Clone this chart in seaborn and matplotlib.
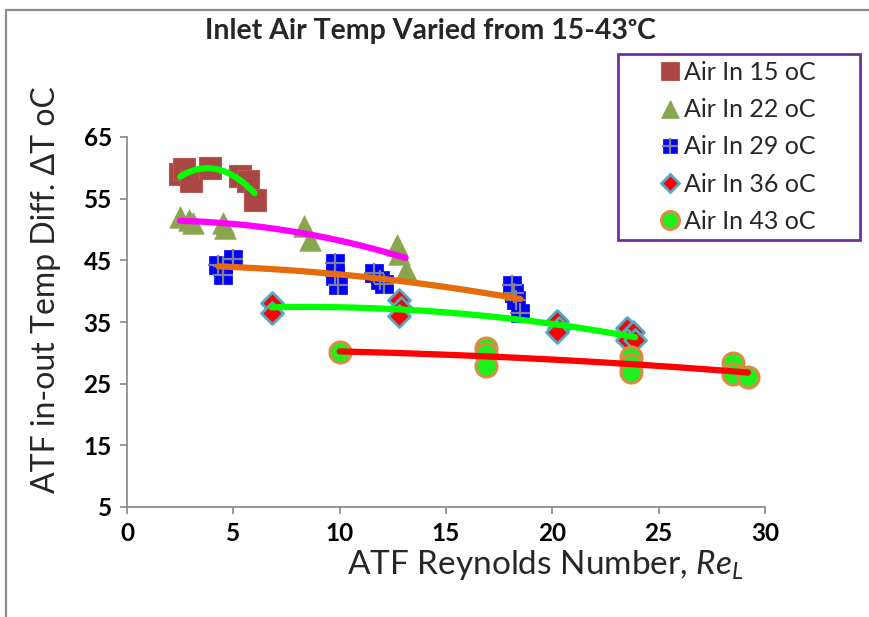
import numpy as np
import pandas as pd
import matplotlib
matplotlib.use("Agg")
import matplotlib.pyplot as plt
from matplotlib.lines import Line2D
from matplotlib.patches import Rectangle
import seaborn as sns

# ATF Reynolds number and in-out temperature difference for each inlet air temperature
x15 = [2.5, 2.7, 3.0, 3.9, 5.3, 5.7, 6.0]
y15 = [59.0, 59.8, 57.8, 59.9, 58.6, 57.8, 54.8]

x22 = [2.5, 2.9, 3.1, 4.5, 4.6, 8.3, 8.6, 12.7, 12.8, 13.1]
y22 = [52.0, 51.5, 51.0, 51.0, 50.3, 50.5, 48.3, 47.5, 46.0, 43.5]

x29 = [4.3, 4.5, 4.5, 5.0, 9.8, 9.8, 9.9, 11.6, 11.9, 12.1, 18.1, 18.2, 18.3, 18.5]
y29 = [44.3, 42.6, 44.0, 45.2, 44.5, 42.5, 41.0, 43.0, 41.8, 41.2, 41.0, 39.7, 38.5, 36.5]

x36 = [6.8, 6.8, 12.8, 12.9, 12.8, 20.2, 20.3, 20.2, 23.5, 23.8, 23.5, 23.9]
y36 = [38.0, 36.5, 38.6, 37.3, 36.0, 35.2, 34.0, 33.4, 34.0, 33.3, 32.0, 32.0]

x43 = [10.0, 16.9, 16.9, 16.9, 23.7, 23.7, 23.7, 28.5, 28.5, 29.2]
y43 = [30.2, 30.8, 29.8, 27.8, 29.3, 28.0, 26.9, 28.3, 26.6, 26.1]

labels = ["Air In 15 oC", "Air In 22 oC", "Air In 29 oC", "Air In 36 oC", "Air In 43 oC"]
x_ticks = [0, 5, 10, 15, 20, 25, 30]
y_ticks = [5, 15, 25, 35, 45, 55, 65]

sns.set_style("white")
plt.rcParams["font.family"] = ["Lato", "DejaVu Sans"]
plt.rcParams["mathtext.fontset"] = "custom"
plt.rcParams["mathtext.it"] = "Lato:italic"
plt.rcParams["mathtext.rm"] = "Lato"

fig = plt.figure(figsize=(8.7, 6.17), dpi=100)
W, H = 870, 617
ax = fig.add_axes([127 / W, 1 - 507 / H, (765 - 127) / W, (507 - 137) / H])

series = [
    dict(x=x15, y=y15, marker="s", s=240, fc="#AA4643", ec="#B85A55", lw=0.8, trend="#00FF00"),
    dict(x=x22, y=y22, marker="^", s=240, fc="#89A54E", ec="#89A54E", lw=0.5, trend="#FF00FF"),
    dict(x=x29, y=y29, marker="s", s=160, fc="#0000FF", ec="#0000FF", lw=0.5, trend="#E46C0A"),
    dict(x=x36, y=y36, marker="D", s=125, fc="#FF0000", ec="#4BACC6", lw=2.0, trend="#00FF00"),
    dict(x=x43, y=y43, marker="o", s=230, fc="#1EF01E", ec="#DC8A44", lw=2.2, trend="#FF0000"),
]

handles = []
for i, sr in enumerate(series):
    df = pd.DataFrame({"Re": sr["x"], "dT": sr["y"]})
    sns.scatterplot(data=df, x="Re", y="dT", marker=sr["marker"], s=sr["s"],
                    color=sr["fc"], edgecolor=sr["ec"], linewidth=sr["lw"],
                    ax=ax, zorder=3, legend=False)
    ms = np.sqrt(sr["s"]) * 0.85
    h = Line2D([], [], ls="none", marker=sr["marker"], markersize=ms,
               markerfacecolor=sr["fc"], markeredgecolor=sr["ec"], markeredgewidth=sr["lw"])
    if i == 2:
        # blue squares carry a grey cross
        sns.scatterplot(data=df, x="Re", y="dT", marker="+", s=210, color="#7F7F9A",
                        linewidth=1.6, ax=ax, zorder=4, legend=False)
        cross = Line2D([], [], ls="none", marker="+", markersize=ms * 1.1,
                       markeredgecolor="#7F7F9A", markeredgewidth=1.6)
        h = (h, cross)
    handles.append(h)

# second-order polynomial trend lines over each series
for sr in series:
    sns.regplot(x=np.array(sr["x"]), y=np.array(sr["y"]), order=2, ci=None, scatter=False,
                truncate=True, ax=ax,
                line_kws=dict(color=sr["trend"], lw=4.5, solid_capstyle="round", zorder=6))

ax.set_xlim(0, 30)
ax.set_ylim(5, 65)
ax.set_xticks(x_ticks)
ax.set_yticks(y_ticks)
ax.set_xticklabels([str(v) for v in x_ticks], fontsize=17.5, fontweight="bold")
ax.set_yticklabels([str(v) for v in y_ticks], fontsize=17.5, fontweight="bold")
for side in ["top", "right"]:
    ax.spines[side].set_visible(False)
for side in ["left", "bottom"]:
    ax.spines[side].set_color("#868686")
    ax.spines[side].set_linewidth(1.2)
ax.tick_params(axis="both", direction="out", length=5, width=1.2, color="#868686",
               pad=6, labelcolor="black", left=True, bottom=True)
ax.grid(False)

ax.set_xlabel(r"ATF Reynolds Number, $\mathit{Re_L}$", fontsize=24)
ax.set_ylabel("ATF in-out Temp Diff. ΔT oC", fontsize=23)
ax.xaxis.set_label_coords((545 - 127) / 638, (507 - 548) / 370)
ax.yaxis.set_label_coords((61 - 127) / 638, (507 - 290) / 370)

fig.text(430 / W, 1 - 31 / H, "Inlet Air Temp Varied from 15-43ᵒC", ha="center", va="center",
         fontsize=20.5, fontweight="bold")

# legend entries, with the purple frame drawn as its own box
leg = fig.legend(handles, labels, loc="upper left",
                 bbox_to_anchor=(659 / W, 1 - 61 / H), bbox_transform=fig.transFigure,
                 frameon=False, fontsize=18, handletextpad=0.1,
                 labelspacing=0.57, borderpad=0.0, handlelength=0.9,
                 borderaxespad=0)
fig.add_artist(Rectangle((618 / W, 1 - 240 / H), (860 - 618) / W, (240 - 54) / H,
                         transform=fig.transFigure, fill=False, edgecolor="#7030A0", lw=2,
                         zorder=5))

# chart frame on the top and left edges
fig.add_artist(Line2D([6 / W, 1], [1 - 10 / H, 1 - 10 / H], transform=fig.transFigure,
                      color="#8C8C8C", lw=1.6))
fig.add_artist(Line2D([6 / W, 6 / W], [0, 1 - 10 / H], transform=fig.transFigure,
                      color="#8C8C8C", lw=1.6))

fig.savefig("out.png", dpi=100)
